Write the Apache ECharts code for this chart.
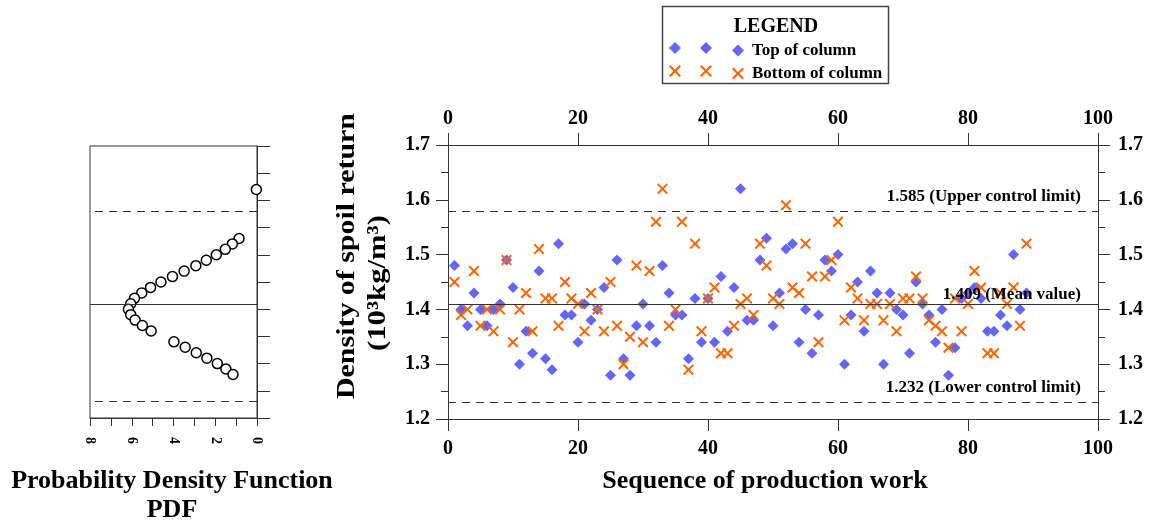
<!DOCTYPE html>
<html>
<head>
<meta charset="utf-8">
<script src="https://cdn.jsdelivr.net/npm/echarts@6/dist/echarts.min.js"></script>
<style>
html,body{margin:0;padding:0;background:#fff;}
#chart{width:1153px;height:524px;}
</style>
</head>
<body>
<div id="chart"></div>
<script>
// Top of column density, sequence 1..89
const topOfColumn = [1.48,1.40,1.37,1.43,1.40,1.37,1.40,1.41,1.49,1.44,1.30,1.36,1.32,1.47,1.31,1.29,1.52,1.39,1.39,1.34,
  1.41,1.38,1.40,1.44,1.28,1.49,1.31,1.28,1.37,1.41,1.37,1.34,1.48,1.43,1.39,1.39,1.31,1.42,1.34,1.42,
  1.34,1.46,1.36,1.44,1.62,1.38,1.38,1.49,1.53,1.37,1.43,1.51,1.52,1.34,1.40,1.32,1.39,1.49,1.47,1.50,
  1.30,1.39,1.45,1.36,1.47,1.43,1.30,1.43,1.40,1.39,1.32,1.45,1.41,1.39,1.34,1.40,1.28,1.33,1.42,1.43,
  1.44,1.42,1.36,1.36,1.39,1.37,1.50,1.40,1.43];
// Bottom of column density, sequence 1..89
const bottomOfColumn = [1.45,1.39,1.40,1.47,1.37,1.40,1.36,1.40,1.49,1.34,1.40,1.43,1.36,1.51,1.42,1.42,1.37,1.45,1.42,1.41,
  1.36,1.43,1.40,1.36,1.45,1.37,1.30,1.35,1.48,1.34,1.47,1.56,1.62,1.37,1.40,1.56,1.29,1.52,1.36,1.42,
  1.44,1.32,1.32,1.37,1.41,1.42,1.39,1.52,1.48,1.42,1.41,1.59,1.44,1.43,1.52,1.46,1.34,1.46,1.49,1.56,
  1.38,1.44,1.42,1.38,1.41,1.41,1.38,1.41,1.36,1.42,1.42,1.46,1.42,1.38,1.37,1.36,1.33,1.42,1.36,1.41,
  1.47,1.44,1.32,1.32,1.43,1.41,1.44,1.37,1.52];
// PDF panel
const pdfDensity = [0.03,0.86,1.18,1.52,1.95,2.43,2.93,3.49,4.05,4.60,5.10,5.52,5.87,6.05,6.16,6.05,5.84,5.49,5.07,3.98,3.44,2.91,2.40,1.90,1.49,1.15];
const pdfLevel   = [1.62,1.53,1.52,1.51,1.50,1.49,1.48,1.47,1.46,1.45,1.44,1.43,1.42,1.41,1.40,1.39,1.38,1.37,1.36,1.34,1.33,1.32,1.31,1.30,1.29,1.28];
// Control limits
const upperLimit = 1.585, meanValue = 1.409, lowerLimit = 1.232;
const xTicks = [0,20,40,60,80,100];
const yTicks = [1.2,1.3,1.4,1.5,1.6,1.7];

const FONT = '"Liberation Serif","Times New Roman",serif';
const AX = '#333';
const BLUE = '#6464ff', ORANGE = '#ff6600';
const X_PATH = 'path://M0,1.3L1.3,0L5,3.7L8.7,0L10,1.3L6.3,5L10,8.7L8.7,10L5,6.3L1.3,10L0,8.7L3.7,5Z';

const chart = echarts.init(document.getElementById('chart'), null, {renderer:'canvas'});

const lblMain = {fontFamily: FONT, fontWeight: 'bold', fontSize: 20, color: '#000'};
function xAxisMain(pos, margin){
  return {gridIndex:0, type:'value', position:pos, min:xTicks[0], max:xTicks[xTicks.length-1], interval:20,
    axisLine:{show:true, onZero:false, lineStyle:{color:AX, width:1}},
    axisTick:{show:true, length:12, lineStyle:{color:AX}},
    minorTick:{show:false}, splitLine:{show:false},
    axisLabel:Object.assign({margin:margin}, lblMain)};
}
function yAxisMain(pos, margin){
  return {gridIndex:0, type:'value', position:pos, min:yTicks[0], max:yTicks[yTicks.length-1], interval:0.1,
    axisLine:{show:true, onZero:false, lineStyle:{color:AX, width:1}},
    axisTick:{show:true, length:12, lineStyle:{color:AX}},
    minorTick:{show:true, splitNumber:2, length:7, lineStyle:{color:AX}},
    splitLine:{show:false},
    axisLabel:Object.assign({margin:margin, formatter:v=>v.toFixed(1)}, lblMain)};
}

const markLineMain = {
  silent:true, symbol:'none', animation:false,
  label:{show:true, position:'insideEndTop', distance:[17,6], fontFamily:FONT, fontWeight:'bold', fontSize:17, color:'#000'},
  data:[
    {yAxis:upperLimit, lineStyle:{type:[8,6], color:'#333', width:1.2}, label:{formatter: upperLimit + ' (Upper control limit)'}},
    {yAxis:meanValue, lineStyle:{type:'solid', color:'#333', width:1.2}, label:{formatter: meanValue + ' (Mean value)', distance:[17,1]}},
    {yAxis:lowerLimit, lineStyle:{type:[8,6], color:'#333', width:1.2}, label:{formatter: lowerLimit + ' (Lower control limit)'}}
  ]
};
const markLinePdf = {
  silent:true, symbol:'none', animation:false, label:{show:false},
  data:[
    {yAxis:upperLimit, lineStyle:{type:[8,6], color:'#333', width:1.2}},
    {yAxis:meanValue, lineStyle:{type:'solid', color:'#333', width:1.2}},
    {yAxis:lowerLimit, lineStyle:{type:[8,6], color:'#333', width:1.2}}
  ]
};

function icon(cx, cy, kind, s){
  if(kind==='d'){
    return {type:'polygon', shape:{points:[[cx,cy-s/2],[cx+s/2,cy],[cx,cy+s/2],[cx-s/2,cy]]}, style:{fill:BLUE}};
  }
  const p=[[0,1.3],[1.3,0],[5,3.7],[8.7,0],[10,1.3],[6.3,5],[10,8.7],[8.7,10],[5,6.3],[1.3,10],[0,8.7],[3.7,5]];
  return {type:'polygon', shape:{points:p.map(q=>[cx-s/2+q[0]*s/10, cy-s/2+q[1]*s/10])}, style:{fill:ORANGE}};
}

const option = {
  backgroundColor:'#fff',
  animation:false,
  legend:{
    show:true, orient:'vertical', left:732, top:42, padding:0,
    itemWidth:12, itemHeight:12, itemGap:6,
    textStyle:{fontFamily:FONT, fontWeight:'bold', fontSize:17, color:'#000', padding:[0,0,0,3]},
    data:['Top of column','Bottom of column'],
    selectedMode:false
  },
  grid:[
    {left:448, top:145, width:650, height:274, show:false},
    {left:90, top:146, width:167, height:272, show:true, borderColor:AX, borderWidth:1, backgroundColor:'transparent'}
  ],
  xAxis:[
    xAxisMain('bottom', 20),
    xAxisMain('top', 16),
    {gridIndex:1, type:'value', position:'bottom', min:0, max:8, interval:1, inverse:true,
      axisLine:{show:true, onZero:false, lineStyle:{color:AX}},
      axisTick:{show:true, length:8, lineStyle:{color:AX}},
      splitLine:{show:false},
      axisLabel:{rotate:-90, margin:19, fontFamily:FONT, fontWeight:'bold', fontSize:14, color:'#000',
        formatter:v=> (v%2===0 ? String(v) : '')}}
  ],
  yAxis:[
    yAxisMain('left', 18),
    yAxisMain('right', 20),
    {gridIndex:1, type:'value', position:'right', min:1.2, max:1.7, interval:0.05,
      axisLine:{show:true, onZero:false, lineStyle:{color:AX}},
      axisTick:{show:true, length:13, lineStyle:{color:AX}},
      splitLine:{show:false}, axisLabel:{show:false}}
  ],
  series:[
    {name:'Top of column', type:'scatter', xAxisIndex:0, yAxisIndex:0, symbol:'diamond', symbolSize:11,
      itemStyle:{color:BLUE, opacity:1},
      data: topOfColumn.map((v,i)=>[i+1, v]),
      markLine: markLineMain, z:3},
    {name:'Bottom of column', type:'scatter', xAxisIndex:0, yAxisIndex:0, symbol:X_PATH, symbolSize:11,
      itemStyle:{color:ORANGE, opacity:1},
      data: bottomOfColumn.map((v,i)=>[i+1, v]), z:4},
    {name:'PDF', type:'scatter', xAxisIndex:2, yAxisIndex:2, symbol:'circle', symbolSize:10,
      itemStyle:{color:'#fff', borderColor:'#000', borderWidth:1.5, opacity:1},
      data: pdfDensity.map((d,i)=>[d, pdfLevel[i]]),
      markLine: markLinePdf, z:3}
  ],
  graphic:[
    {type:'rect', z:-1, shape:{x:662.5, y:6.5, width:226, height:77}, style:{fill:'#fff', stroke:'#444', lineWidth:1.5}},
    {type:'text', x:776, y:27, style:{text:'LEGEND', align:'center', verticalAlign:'middle', fontFamily:FONT, fontWeight:'bold', fontSize:20, fill:'#000'}},
    icon(675,48,'d',12), icon(706,48,'d',12),
    icon(675,71,'x',12), icon(706,71,'x',12),
    {type:'text', x:765, y:481, style:{text:'Sequence of production work', align:'center', verticalAlign:'middle', fontFamily:FONT, fontWeight:'bold', fontSize:26, fill:'#000'}},
    {type:'text', x:347, y:256, rotation:Math.PI/2, scaleX:1.15, style:{text:'Density of spoil return', align:'center', verticalAlign:'middle', fontFamily:FONT, fontWeight:'bold', fontSize:26, fill:'#000'}},
    {type:'text', x:378, y:283, rotation:Math.PI/2, scaleX:1.18, style:{text:'(10³kg/m³)', align:'center', verticalAlign:'middle', fontFamily:FONT, fontWeight:'bold', fontSize:26, fill:'#000'}},
    {type:'text', x:172, y:481, style:{text:'Probability Density Function', align:'center', verticalAlign:'middle', fontFamily:FONT, fontWeight:'bold', fontSize:26, fill:'#000'}},
    {type:'text', x:172, y:510, style:{text:'PDF', align:'center', verticalAlign:'middle', fontFamily:FONT, fontWeight:'bold', fontSize:26, fill:'#000'}}
  ]
};
chart.setOption(option);
</script>
</body>
</html>
